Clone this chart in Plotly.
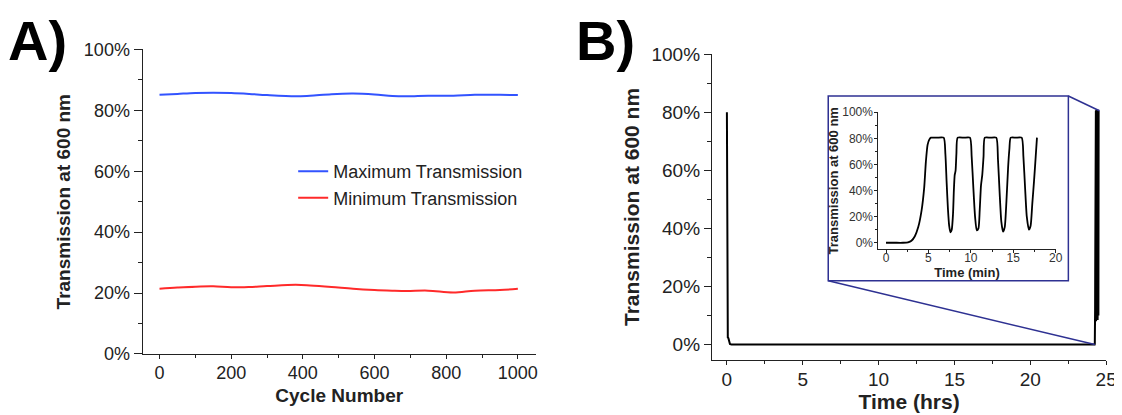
import plotly.graph_objects as go

# ---------- Data ----------
# Panel A: cycling stability
cycle_number = [0, 50, 100, 150, 200, 250, 300, 380, 420, 480, 540, 600, 650, 690, 750, 820, 880, 950, 1000]
max_transmission = [85.1, 85.4, 85.7, 85.8, 85.7, 85.4, 85.0, 84.6, 84.8, 85.3, 85.5, 85.2, 84.7, 84.6, 84.8, 84.8, 85.1, 85.1, 85.0]
min_transmission = [21.4, 21.8, 22.1, 22.2, 21.9, 22.0, 22.3, 22.7, 22.5, 22.0, 21.4, 21.0, 20.8, 20.7, 20.8, 20.2, 20.8, 21.0, 21.4]

# Inset: first cycles (minutes)
inset_time_min = [0, 1, 2, 2.6, 3.0, 3.4, 3.8, 4.2, 4.5, 4.7, 4.9, 5.1, 5.3, 6.0, 6.8, 7.0, 7.15, 7.3, 7.45, 7.6, 7.75, 7.9, 8.0, 8.1, 8.2, 8.3, 8.45,
                  9.2, 9.9, 10.1, 10.3, 10.5, 10.7, 10.9, 11.05, 11.2, 11.35, 11.5, 11.65, 12.3, 13.0, 13.2, 13.4, 13.6, 13.8, 14.0, 14.2, 14.4, 14.55, 14.7,
                  15.3, 16.0, 16.2, 16.4, 16.6, 16.85, 17.05, 17.25, 17.45, 17.65, 17.8]
inset_transmission = [0, 0, 0, 0.3, 1.5, 5, 12, 25, 42, 62, 75, 79, 80.5, 80.5, 80.5, 68, 46, 26, 13, 8, 10, 22, 40, 52, 55, 68, 80.5,
                      80.5, 80.5, 66, 42, 20, 9.5, 11, 25, 44, 52, 66, 80.5, 80.5, 80.5, 64, 38, 16, 8.5, 12, 32, 58, 72, 80.5,
                      80.5, 80.5, 66, 42, 20, 10, 13, 30, 47, 66, 80.5]

# Panel B: long-term (hours) - initial transient and long dark period
long_time_hrs = [0, 0.02, 0.04, 0.06, 0.1, 0.14, 0.2, 0.3, 5, 10, 15, 20, 24.2]
long_transmission = [80, 35, 6, 2.5, 2.2, 1.0, 0.2, 0, 0, 0, 0, 0, 0]
cycling_start_hrs = 24.21  # cycling block at the end of the run

# ---------- Styles ----------
FONT = "Liberation Sans, Arial, sans-serif"
TICK_COLOR = "#222222"
BOX_COLOR = "#2e3192"

cycle_time_hrs = [cycling_start_hrs + t / 60.0 for t in inset_time_min]
b_time = long_time_hrs + cycle_time_hrs
b_trans = long_transmission + inset_transmission

fig = go.Figure()

fig.add_trace(go.Scatter(x=cycle_number, y=max_transmission, mode="lines", name="Maximum Transmission",
                         line=dict(color="#3253ff", width=2, shape="spline"), xaxis="x", yaxis="y"))
fig.add_trace(go.Scatter(x=cycle_number, y=min_transmission, mode="lines", name="Minimum Transmission",
                         line=dict(color="#ff2a2a", width=2, shape="spline"), xaxis="x", yaxis="y"))
fig.add_trace(go.Scatter(x=b_time, y=b_trans, mode="lines", showlegend=False,
                         line=dict(color="black", width=2), xaxis="x2", yaxis="y2"))
fig.add_trace(go.Scatter(x=inset_time_min, y=inset_transmission, mode="lines", showlegend=False,
                         line=dict(color="black", width=1.8, shape="spline", smoothing=0.6), xaxis="x3", yaxis="y3"))

W, H = 1122, 415

def px_x(a, b):
    return [a / W, b / W]

def px_y(top, bottom):
    return [1 - bottom / H, 1 - top / H]

common = dict(showline=True, linecolor="#222", linewidth=1.3, showgrid=False, zeroline=False,
              ticks="outside", tickcolor="#222", tickwidth=1.2,
              tickfont=dict(family=FONT, color=TICK_COLOR))

fig.update_layout(
    width=W, height=H, margin=dict(l=0, r=0, t=0, b=0),
    paper_bgcolor="white", plot_bgcolor="rgba(0,0,0,0)",
    font=dict(family=FONT, color=TICK_COLOR),
    xaxis=dict(common, domain=px_x(136, 533), range=[-47, 1050], dtick=200, tick0=0, ticklen=4,
               ticklabelstandoff=-2,
               tickfont=dict(family=FONT, size=18, color=TICK_COLOR),
               minor=dict(ticks="outside", dtick=100, ticklen=3, tickcolor="#222"),
               title=dict(text="<b>Cycle Number</b>", font=dict(family=FONT, size=19, color="#222"), standoff=6),
               anchor="y"),
    yaxis=dict(common, domain=px_y(33, 353), range=[0, 100], dtick=20, ticksuffix="%", ticklen=8,
               tickfont=dict(family=FONT, size=18, color=TICK_COLOR),
               minor=dict(ticks="outside", dtick=10, ticklen=4, tickcolor="#222"),
               title=dict(text="<b>Transmission at 600 nm</b>", font=dict(family=FONT, size=19, color="#222"), standoff=8),
               anchor="x"),
    xaxis2=dict(common, domain=px_x(711, 1109), range=[-0.98, 25], dtick=5, tick0=0, ticklen=4,
                ticklabelstandoff=-2,
                tickfont=dict(family=FONT, size=19, color=TICK_COLOR),
                minor=dict(ticks="outside", dtick=2.5, ticklen=3, tickcolor="#222"),
                title=dict(text="<b>Time (hrs)</b>", font=dict(family=FONT, size=21, color="#222"), standoff=2),
                anchor="y2"),
    yaxis2=dict(common, domain=px_y(38, 359), range=[-5.2, 100], dtick=20, tick0=0, ticksuffix="%", ticklen=7,
                tickfont=dict(family=FONT, size=19, color=TICK_COLOR),
                minor=dict(ticks="outside", dtick=10, ticklen=4, tickcolor="#222"),
                title=dict(text="<b>Transmission at 600 nm</b>", font=dict(family=FONT, size=21, color="#222"), standoff=6),
                anchor="x2"),
    xaxis3=dict(common, domain=px_x(879, 1058), range=[-0.9, 20], dtick=5, tick0=0, ticklen=3, linewidth=1,
                ticklabelstandoff=-6,
                tickfont=dict(family=FONT, size=12, color="#333"),
                minor=dict(ticks="outside", dtick=2.5, ticklen=2, tickcolor="#222"),
                title=dict(text="<b>Time (min)</b>", font=dict(family=FONT, size=13, color="#222"), standoff=0),
                anchor="y3"),
    yaxis3=dict(common, domain=px_y(99, 243), range=[-5, 100], dtick=20, tick0=0, ticksuffix="%", ticklen=3, linewidth=1,
                ticklabelstandoff=-1,
                tickfont=dict(family=FONT, size=12, color="#333"),
                minor=dict(ticks="outside", dtick=10, ticklen=2, tickcolor="#222"),
                title=dict(text="<b>Transmission at 600 nm</b>", font=dict(family=FONT, size=13, color="#222"), standoff=0),
                anchor="x3"),
    legend=dict(x=288 / W, y=1 - 142 / H, xanchor="left", yanchor="top", bgcolor="rgba(0,0,0,0)",
                font=dict(family=FONT, size=18, color="#222"), tracegroupgap=0, itemwidth=30),
)

# Inset frame and zoom connectors (in panel-B data coordinates)
box_t0, box_t1, box_y0, box_y1 = 6.68, 22.51, 22.0, 85.6
fig.add_shape(type="rect", xref="x2", yref="y2", x0=box_t0, x1=box_t1, y0=box_y0, y1=box_y1,
              line=dict(color=BOX_COLOR, width=1.5), layer="above")
fig.add_shape(type="line", xref="x2", yref="y2", x0=box_t0, y0=box_y0, x1=cycle_time_hrs[3], y1=0,
              line=dict(color=BOX_COLOR, width=1.5), layer="above")
fig.add_shape(type="line", xref="x2", yref="y2", x0=box_t1, y0=box_y1, x1=cycle_time_hrs[-1] + 0.05, y1=80.5,
              line=dict(color=BOX_COLOR, width=1.5), layer="above")

# Panel labels
fig.add_annotation(text="<b>A)</b>", xref="paper", yref="paper", x=-2 / W, y=1 - 24 / H, xanchor="left", yanchor="middle",
                   showarrow=False, font=dict(family=FONT, size=56, color="black"))
fig.add_annotation(text="<b>B)</b>", xref="paper", yref="paper", x=572 / W, y=1 - 24 / H, xanchor="left", yanchor="middle",
                   showarrow=False, font=dict(family=FONT, size=56, color="black"))

fig.write_html("out.html")
